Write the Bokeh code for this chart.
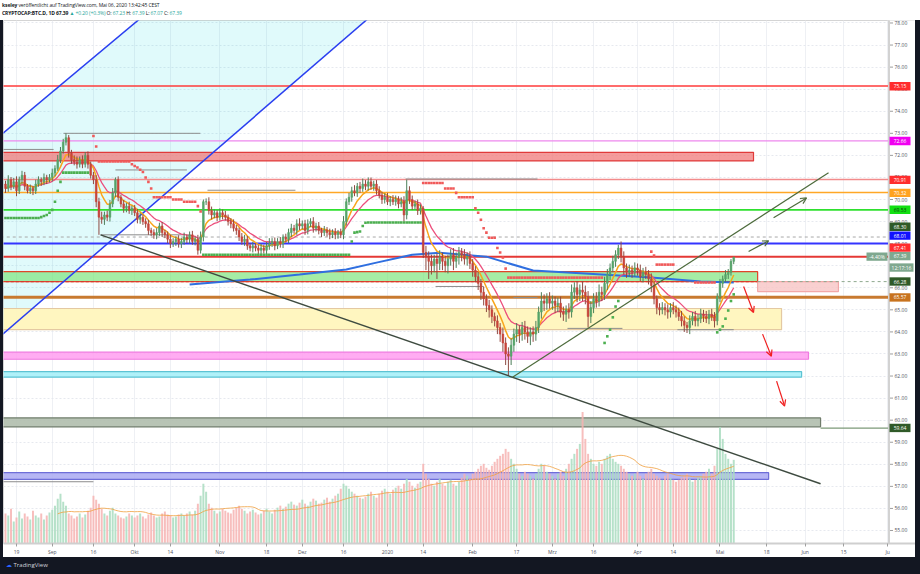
from bokeh.plotting import figure
from bokeh.models import (Range1d, FixedTicker, Arrow, OpenHead, ColumnDataSource, Div)
from bokeh.layouts import column, row
from bokeh.core.properties import value
from bokeh.embed import file_html
from bokeh.resources import INLINE

# ---------------- data (day index 0 = 19 Aug 2019, last = 6 May 2020) ----------------
first_open = 70.7
closes = (
    [70.5, 70.9, 70.6, 70.8, 70.4, 70.9, 71.1] +
    [70.6, 70.4, 70.5, 70.4, 70.7, 70.9, 70.8] +
    [71.0, 70.9, 71.0, 71.2, 71.4, 71.8, 72.2] +
    [72.6, 72.8, 72.1, 71.8, 71.7, 71.6, 71.8] +
    [71.6, 72.0, 71.6, 71.1, 70.9, 69.9, 69.2] +
    [69.1, 69.3, 69.2, 69.8, 70.3, 70.9, 70.1] +
    [69.8, 69.6, 69.7, 69.5, 69.6, 69.4, 69.1] +
    [69.2, 69.0, 68.9, 68.6, 68.5, 68.4, 68.5] +
    [68.8, 68.5, 68.4, 68.2, 68.0, 68.1, 68.2] +
    [68.0, 68.1, 68.3, 68.2, 68.4, 68.1, 68.2] +
    [67.7, 68.3, 69.9, 69.9, 69.5, 69.3, 69.4] +
    [69.2, 69.4, 69.3, 69.2, 69.0, 68.9, 68.7] +
    [68.6, 68.3, 68.1, 68.2, 67.9, 67.8, 67.9] +
    [67.8, 67.7, 67.8, 67.7, 67.9, 68.0, 68.1] +
    [67.9, 68.1, 68.0, 68.3, 68.2, 68.5, 68.7] +
    [68.6, 68.9, 68.8, 68.9, 68.6, 68.9, 69.0] +
    [68.7, 68.8, 68.6, 68.5, 68.6, 68.5, 68.4] +
    [68.5, 68.4, 68.5, 68.4, 69.0, 69.9, 70.1] +
    [70.4, 70.3, 70.6, 70.5, 70.7, 70.6, 70.8] +
    [70.6, 70.7, 70.4, 70.2, 70.0, 70.1, 69.9] +
    [70.0, 69.9, 70.0, 69.8, 69.9, 69.3, 70.4] +
    [70.0, 69.7, 69.8, 69.5, 69.6, 67.6, 67.4] +
    [67.2, 67.0, 67.3, 67.1, 67.4, 67.2, 67.0] +
    [67.3, 67.5, 67.2, 67.4, 67.6, 67.5, 67.3] +
    [67.4, 67.1, 66.8, 66.5, 66.2, 65.8, 65.5] +
    [65.2, 65.0, 64.7, 64.5, 64.2, 63.9, 63.5] +
    [63.0, 62.9, 63.4, 63.9, 64.1, 63.9, 64.2] +
    [64.0, 63.8, 64.0, 63.9, 64.2, 64.9, 65.4] +
    [65.3, 65.5, 65.3, 65.4, 65.2, 65.3, 64.9] +
    [64.8, 65.0, 64.9, 65.8, 66.0, 65.7, 65.9] +
    [65.8, 65.6, 64.7, 65.1, 65.5, 65.4, 65.8] +
    [65.7, 66.2, 66.6, 66.9, 67.2, 67.5, 67.8] +
    [67.4, 66.9, 66.7, 66.8, 66.7, 66.9, 66.8] +
    [66.5, 66.7, 66.6, 66.4, 66.1, 65.5, 65.1] +
    [65.0, 65.1, 65.0, 64.9, 65.1, 65.0, 64.9] +
    [64.7, 64.5, 64.3, 64.2, 64.5, 64.7, 64.5] +
    [64.6, 64.8, 64.7, 64.6, 64.8, 64.7, 64.5] +
    [65.6, 66.2, 66.4, 66.6, 66.7, 67.2, 67.39]
)
# upper / lower wick lengths in hundredths of a point
wick_up = (
    [15, 20, 12, 18, 25, 14, 20] + [15, 10, 18, 12, 20, 15, 10] + [18, 12, 15, 20, 15, 22, 18] +
    [15, 20, 12, 15, 20, 25, 15] + [20, 15, 18, 12, 15, 20, 18] + [25, 15, 20, 18, 22, 10, 15] +
    [12, 18, 15, 20, 12, 15, 18] + [20, 12, 15, 18, 12, 15, 20] + [15, 18, 12, 15, 20, 15, 12] +
    [18, 15, 20, 12, 15, 18, 12] + [20, 25, 10, 15, 20, 18, 15] + [12, 20, 15, 18, 12, 15, 20] +
    [15, 12, 18, 20, 15, 12, 18] + [12, 15, 20, 15, 18, 25, 15] + [18, 15, 20, 12, 15, 18, 20] +
    [15, 20, 25, 15, 18, 20, 15] + [20, 15, 18, 12, 20, 15, 18] + [15, 20, 12, 18, 25, 15, 20] +
    [18, 25, 15, 20, 25, 18, 20] + [20, 15, 18, 20, 15, 18, 20] + [15, 20, 18, 15, 20, 25, 50] +
    [20, 18, 15, 20, 18, 10, 30] + [25, 30, 20, 25, 30, 20, 25] + [20, 25, 30, 20, 25, 20, 25] +
    [20, 25, 20, 18, 22, 20, 25] + [20, 25, 20, 18, 25, 20, 30] + [25, 30, 30, 25, 30, 20, 25] +
    [30, 25, 20, 25, 30, 25, 40] + [30, 25, 30, 25, 20, 25, 30] + [25, 20, 30, 35, 25, 30, 25] +
    [40, 30, 25, 30, 25, 30, 35] + [25, 30, 25, 20, 25, 20, 15] + [30, 25, 20, 25, 20, 25, 20] +
    [25, 20, 25, 20, 25, 20, 15] + [20, 25, 20, 25, 20, 25, 20] + [20, 25, 20, 15, 25, 20, 25] +
    [20, 25, 20, 25, 20, 25, 20] + [15, 20, 15, 20, 15, 10, 0]
)
wick_dn = (
    [20, 15, 18, 12, 25, 15, 20] + [18, 12, 15, 20, 15, 12, 18] + [15, 20, 12, 18, 15, 10, 15] +
    [12, 15, 20, 18, 15, 20, 15] + [18, 15, 20, 15, 20, 25, 80] + [20, 25, 18, 20, 15, 20, 18] +
    [15, 20, 18, 15, 20, 15, 18] + [20, 15, 18, 20, 15, 18, 20] + [15, 20, 15, 18, 20, 15, 20] +
    [18, 20, 15, 18, 20, 15, 18] + [20, 15, 20, 15, 18, 20, 15] + [18, 15, 20, 15, 18, 20, 15] +
    [20, 18, 15, 20, 18, 15, 20] + [15, 20, 18, 15, 20, 18, 15] + [20, 15, 18, 20, 15, 18, 20] +
    [15, 20, 18, 15, 20, 18, 15] + [20, 15, 18, 20, 15, 18, 20] + [15, 20, 18, 15, 20, 18, 15] +
    [20, 15, 18, 20, 15, 18, 20] + [15, 20, 18, 15, 20, 18, 15] + [20, 15, 18, 20, 15, 30, 20] +
    [20, 18, 15, 20, 18, 25, 60] + [80, 40, 30, 70, 30, 40, 30] + [35, 30, 40, 30, 35, 30, 25] +
    [30, 25, 30, 25, 30, 35, 30] + [30, 35, 30, 25, 30, 35, 40] + [50, 90, 40, 30, 35, 40, 30] +
    [35, 30, 40, 35, 30, 25, 30] + [35, 30, 25, 30, 35, 30, 25] + [30, 35, 30, 25, 30, 35, 30] +
    [40, 35, 50, 30, 25, 30, 25] + [30, 25, 30, 25, 20, 25, 20] + [25, 30, 25, 20, 25, 20, 25] +
    [20, 25, 20, 25, 30, 25, 30] + [25, 20, 25, 30, 25, 20, 25] + [20, 25, 30, 25, 30, 20, 25] +
    [25, 20, 25, 20, 25, 20, 30] + [20, 25, 20, 15, 20, 15, 13]
)
volume = (
    [30, 28, 35, 22, 26, 32, 25, 30, 27, 24, 33, 28, 26, 30, 24, 28, 31] +
    [34, 38, 45, 50, 42, 38, 30, 28, 25, 27, 30, 26, 29, 33, 36] +
    [48, 44, 40, 35, 30, 28, 33, 36, 30, 28, 26, 25, 27, 30, 28, 26] +
    [28, 30, 27, 25, 29, 31, 28, 26, 27, 30, 32, 29, 28, 26, 27, 29, 30] +
    [28, 30, 32, 29, 33, 40, 48, 60, 52, 40, 36, 33, 30, 32, 35] +
    [33, 31, 30, 34, 36, 38, 35, 33, 30, 32, 34, 31, 29, 30, 33, 35, 32, 30, 34, 36] +
    [38, 35, 37, 40, 42, 39, 38, 41, 44, 40, 38, 42, 45, 43, 40, 41, 44, 46, 42, 45, 48, 50, 55, 60, 58] +
    [55, 52, 50, 48, 46, 45, 47, 50, 52, 48, 46, 50, 53, 55, 52, 50, 54, 56, 58, 55, 60, 65, 62, 58, 56, 60, 62] +
    [80, 70, 65, 60, 58, 62, 65, 60, 58, 62, 64, 60, 58, 62, 66, 70, 68, 65, 70, 72, 75, 78, 80, 76, 74, 78, 82, 85, 88, 90, 95] +
    [92, 85, 80, 75, 70, 68, 72, 70, 68, 65, 70, 75, 80, 78, 72, 70, 68, 65, 70, 72, 68, 75, 80, 85, 90, 95, 100, 132, 105, 90, 85, 80, 78, 82] +
    [80, 85, 88, 90, 85, 82, 80, 78, 75, 72, 70, 68, 70, 72, 68, 65, 70, 72, 75, 70, 68, 66, 64, 68, 70, 66, 64, 62] +
    [64, 66, 68, 70, 65, 62, 64, 66, 68, 70, 72, 75, 70, 78, 95, 117, 105, 90, 85, 80, 84]
)
stop_dots = (
    [69.16] * 13 + [69.2, 69.25, 69.3, 69.4] + [69.53, 69.9, 70.4, 70.8] + [71.22] * 10 + [None] +
    [72.88, 72.4] + [71.72] * 12 + [71.6, 71.52, 71.45, 71.35, 71.25, 71.0, 70.8, 70.5] +
    [70.1] * 7 + [70.0] * 4 + [69.9] * 5 + [69.7, 69.46] + [67.5] * 54 +
    [68.1, 68.5, 68.52, 68.55, 68.8, 68.95] + [68.96] * 20 + [70.75] * 8 + [70.5] * 4 + [70.3] +
    [70.1] * 6 + [69.6, 69.4, 69.08, 68.7, 68.5, 68.27, 68.27, 68.27, 67.8, 67.6, 67.37, 66.87] +
    [66.46] * 35 + [63.5, 63.8, 64.1, 64.66, 65.15, 65.4] + [None] * 11 + [67.64, 67.46] +
    [67.05] * 7 + [None] * 7 + [66.24] * 8 + [63.98, 64.1, 64.25, 64.6, 64.97, 65.4, 65.7]
)
ma200_days = [63, 85, 103, 120, 131, 144, 154, 171, 188, 213, 231, 249, 261]
ma200_vals = [66.15, 66.37, 66.6, 66.83, 67.14, 67.5, 67.59, 67.41, 66.78, 66.6, 66.47, 66.28, 66.24]

tick_days = [0, 13, 28, 43, 56, 74, 91, 104, 119, 135, 148, 166, 182, 195, 210, 226, 239, 256, 273, 287, 301, 317]
tick_labels = ["19", "Sep", "16", "Okt", "14", "Nov", "18", "Dez", "16", "2020", "14", "Feb",
               "17", "Mrz", "16", "Apr", "14", "Mai", "18", "Jun", "15", "Ju"]
price_ticks = list(range(55, 79))

level_prices = [75.15, 72.66, 70.91, 70.32, 69.53, 68.01, 67.41, 65.57]
zone_top = [72.14, 66.73, 66.28, 65.06, 63.08, 62.20, 60.10, 57.62]
zone_bot = [71.75, 66.28, 65.83, 64.10, 62.76, 61.95, 59.70, 57.32]
zone_start = [-6, -6, 269.7, -6, -6, -6, -6, -6]
zone_end = [268.2, 269.7, 299.1, 278.4, 288.2, 285.7, 292.6, 273.7]

piv_d0 = [17.1, -6, 30.6, 36.0, 69.5, 85.0, 141.6, 152.5, 180.8, 200.5, 240.5, -6]
piv_d1 = [66.9, 13.5, 60.8, 62.0, 101.5, 119.0, 189.6, 170.0, 189.6, 220.5, 261.0, 28.0]
piv_p = [73.0, 72.27, 68.40, 71.34, 70.42, 67.37, 70.93, 66.06, 65.56, 64.16, 64.10, 57.21]

chan_up = [(-5, 73.0), (47, 78.41)]
chan_lo = [(-5, 63.9), (129.8, 78.4)]
trend_dn = [(30.6, 68.4), (292.6, 57.12)]
trend_up = [(180.5, 61.95), (295.5, 71.21)]
arrows_up = [((266.4, 67.64), (273.7, 68.13)), ((275.5, 69.17), (287.5, 70.07))]
arrows_dn = [((264.6, 66.06), (268.2, 64.88)), ((271.5, 63.9), (274.7, 62.9)), ((276.6, 61.77), (279.5, 60.64))]

# price tags on the scale: text, background, text colour
tag_text = ["75.15", "72.66", "70.91", "70.32", "69.53", "68.30", "68.01", "67.41", "67.39",
            "12:17:16", "66.28", "65.57", "59.64", "-4.40%"]
tag_bg = ["#ff2d2d", "#f000f0", "#ff2d2d", "#ffa21f", "#12e012", "#2f5a28", "#1212ff", "#ff2d2d",
          "#7fa88f", "#7fa88f", "#2f5a28", "#c8731e", "#2f5a28", "#7fa88f"]
tag_fg = ["white"] * 4 + ["#0d3a0d"] + ["white"] * 9

# ---------------- helpers (screen pixel -> data) ----------------
def dx(px):
    return (px - 16.0) / 2.748


def py(pv):
    return 78.0 - (pv - 22.5) / 22.15


def ema(vals, n):
    a = 2.0 / (n + 1)
    out = [vals[0]]
    for v in vals[1:]:
        out.append(out[-1] + a * (v - out[-1]))
    return out


n = len(closes)
days = list(range(-4, -4 + n))
opens = [first_open] + closes[:-1]
highs = [max(o, c) + u / 100.0 for o, c, u in zip(opens, closes, wick_up)]
lows = [min(o, c) - d / 100.0 for o, c, d in zip(opens, closes, wick_dn)]
is_up = [c >= o for o, c in zip(opens, closes)]

UP, DN = "#56a46a", "#c8443a"
src = ColumnDataSource(dict(
    d=days, h=highs, l=lows,
    top=[max(o, c) for o, c in zip(opens, closes)],
    bot=[min(o, c) for o, c in zip(opens, closes)],
    col=[UP if u else DN for u in is_up],
    wick=["#4d7f5a" if u else "#8e4a42" for u in is_up],
    vol=volume,
    vcol=["#a9dcc0" if u else "#f6b3b1" for u in is_up],
))

FONT = value("Open Sans")
p = figure(width=912, height=537,
           x_range=Range1d(dx(3), dx(915)), y_range=Range1d(py(545), py(20)),
           y_axis_location=None, output_backend="svg", toolbar_location=None,
           min_border_left=0, min_border_right=0, min_border_top=0, min_border_bottom=12,
           background_fill_color="white", border_fill_color="white",
           outline_line_color="#d4d4d4", margin=0)
p.extra_y_ranges = {"vol": Range1d(0, 525)}

# grid
p.xgrid.ticker = FixedTicker(ticks=tick_days)
p.ygrid.ticker = FixedTicker(ticks=price_ticks)
p.xgrid.grid_line_color = "#eef0f4"
p.ygrid.grid_line_color = "#e6e9ef"
p.ygrid.grid_line_dash = "2 2"

# time axis
ax = p.xaxis[0]
ax.ticker = FixedTicker(ticks=tick_days)
ax.major_label_overrides = {d: t for d, t in zip(tick_days, tick_labels)}
ax.major_label_text_font_size = "5px"
ax.major_label_text_color = "#50535e"
ax.major_label_text_font = "Open Sans"
ax.axis_line_color = "#cfcfcf"
ax.axis_line_width = 2
ax.major_tick_line_color = "#9e9e9e"
ax.major_tick_out = 3
ax.major_tick_in = 0
ax.minor_tick_line_color = None
ax.major_label_standoff = 2

# channel fill
cx = [chan_up[0][0], chan_up[1][0], chan_lo[1][0], chan_lo[0][0]]
cy = [chan_up[0][1], chan_up[1][1], chan_lo[1][1], chan_lo[0][1]]
p.patch(cx, cy, fill_color="#00d8e0", fill_alpha=0.12, line_color=None)

# zones
zone_fill = ["#f07a7a", "#74e474", "#f8c4c4", "#fff5bd", "#ff9ef0", "#a6eff8", "#b0bead", "#a9a9f2"]
zone_line = ["#e03a3a", "#e0452a", "#f2a8a8", "#e4c9a2", "#f07ae0", "#5cc3d3", "#6f7c6b", "#6e6ed8"]
zone_alpha = [0.75, 0.65, 0.8, 0.95, 0.85, 0.9, 0.9, 0.85]
p.quad(left=zone_start, right=zone_end, top=zone_top, bottom=zone_bot,
       fill_color=zone_fill, fill_alpha=zone_alpha, line_color=zone_line, line_width=1.2)
XL, XR = dx(3) - 1, dx(888)
p.segment(x0=[XL], x1=[zone_end[1]], y0=[66.28], y1=[66.28],
          line_color="#d63a2a", line_width=1.2, line_dash="3 2")
p.segment(x0=[zone_end[1]], x1=[XR], y0=[66.28], y1=[66.28],
          line_color="#8fa88f", line_width=1, line_dash="3 3")
p.segment(x0=[zone_end[6]], x1=[XR], y0=[59.64], y1=[59.64],
          line_color="#7d9a78", line_width=1.2)

# horizontal levels
lvl_col = ["#ff3b3b", "#ee88ee", "#f28b8b", "#ffa726", "#2ee02e", "#3434ff", "#e53935", "#c87a30"]
lvl_w = [1.5, 1.2, 1.5, 1.6, 1.6, 2, 2, 3]
p.segment(x0=[XL] * len(level_prices), x1=[XR] * len(level_prices), y0=level_prices, y1=level_prices,
          line_color=lvl_col, line_width=lvl_w)
p.segment(x0=[XL], x1=[XR], y0=[68.30], y1=[68.30],
          line_color="#a8a8a8", line_width=1, line_dash="3 3")

# pivot lines
p.segment(x0=piv_d0, x1=piv_d1, y0=piv_p, y1=piv_p, line_color="#8c8c8c", line_width=1)

# channel lines
for ln in (chan_up, chan_lo):
    p.line([ln[0][0], ln[1][0]], [ln[0][1], ln[1][1]], line_color="#2a3ff0", line_width=1.5)

# volume
p.vbar(x="d", width=0.72, top="vol", bottom=0, y_range_name="vol", source=src,
       fill_color="vcol", line_color=None, fill_alpha=0.85)
vma = [None if i < 19 else sum(volume[i - 19:i + 1]) / 20.0 for i in range(n)]
p.line([d for d, v in zip(days, vma) if v is not None], [v for v in vma if v is not None],
       y_range_name="vol", line_color="#f0a040", line_width=1, line_alpha=0.8)

# moving averages
p.line(ma200_days, ma200_vals, line_color="#2f6fe0", line_width=2)
p.line(days, ema(closes, 14), line_color="#ec4f7c", line_width=1.3)
p.line(days, ema(closes, 7), line_color="#f8a51c", line_width=1.5)

# candles
p.segment(x0="d", x1="d", y0="h", y1="l", line_color="wick", line_width=1, source=src)
p.vbar(x="d", width=0.62, top="top", bottom="bot", fill_color="col", line_color="col",
       line_width=0.6, source=src)

# stop dots
gd, gv, rd, rv = [], [], [], []
for d, s, c in zip(days, stop_dots, closes):
    if s is None:
        continue
    if s > c:
        rd.append(d); rv.append(s)
    else:
        gd.append(d); gv.append(s)
p.scatter(gd, gv, marker="square", size=2.6, fill_color="#4caf50", line_color=None)
p.scatter(rd, rv, marker="square", size=2.6, fill_color="#f05a5a", line_color=None)

# trend lines and arrows
p.line([trend_dn[0][0], trend_dn[1][0]], [trend_dn[0][1], trend_dn[1][1]],
       line_color="#3e4b40", line_width=1.4)
p.line([trend_up[0][0], trend_up[1][0]], [trend_up[0][1], trend_up[1][1]],
       line_color="#4d6b3c", line_width=1.2)
for (a, b) in arrows_up:
    p.add_layout(Arrow(end=OpenHead(size=6, line_color="#4d6b3c", line_width=1.2),
                       x_start=a[0], y_start=a[1], x_end=b[0], y_end=b[1],
                       line_color="#4d6b3c", line_width=1.2))
for (a, b) in arrows_dn:
    p.add_layout(Arrow(end=OpenHead(size=6, line_color="#f02020", line_width=1.2),
                       x_start=a[0], y_start=a[1], x_end=b[0], y_end=b[1],
                       line_color="#f02020", line_width=1.2))

# ---------------- price scale (right side of the frame) ----------------
p.quad(left=[dx(888)], right=[dx(920)], top=[py(10)], bottom=[py(560)],
       fill_color="white", line_color=None)
p.segment(x0=[dx(888.5)], x1=[dx(888.5)], y0=[py(18)], y1=[py(548)],
          line_color="#d2d2d2", line_width=2)
p.segment(x0=[dx(889.5)] * len(price_ticks), x1=[dx(892.5)] * len(price_ticks),
          y0=price_ticks, y1=price_ticks, line_color="#9e9e9e", line_width=1)
p.text(x=[dx(894)] * len(price_ticks), y=price_ticks, text=["%.2f" % t for t in price_ticks],
       text_font=FONT, text_font_size="5px", text_color="#50535e",
       text_align="left", text_baseline="middle")

tag_row = [86, 141, 180, 193, 210, 227, 236, 248, 256.5, 268, 282, 298, 429, 257]
tag_x0 = [889] * 9 + [889, 889, 889, 889, 866]
tag_x1 = [910] * 9 + [913, 910, 910, 910, 887]
p.quad(left=[dx(a) for a in tag_x0], right=[dx(b) for b in tag_x1],
       top=[py(r - 4.2) for r in tag_row], bottom=[py(r + 4.2) for r in tag_row],
       fill_color=tag_bg, line_color=None)
p.text(x=[dx((a + b) / 2.0) for a, b in zip(tag_x0, tag_x1)], y=[py(r) for r in tag_row],
       text=tag_text, text_color=tag_fg, text_font=FONT, text_font_size="5px",
       text_align="center", text_baseline="middle")

# ---------------- header / footer ----------------
G = '<span style="color:#26a69a">%s</span>'
header_html = (
    '<div style="font-family:\'Open Sans\';font-size:5px;line-height:8px;color:#131722;'
    'letter-spacing:-0.1px;padding:1px 0 0 2px;white-space:nowrap">'
    '<b>kseley</b> veröffentlicht auf TradingView.com, Mai 06, 2020 13:42:45 CEST<br>'
    '<b>CRYPTOCAP:BTC.D, 1D</b> <b>67.39</b> ' + G % '&#9650; +0.20 (+0.3%)' +
    ' O: ' + G % '67.23' + ' H: ' + G % '67.39' + ' L: ' + G % '67.07' + ' C: ' + G % '67.39' +
    '</div>'
)
header = Div(text=header_html, width=920, height=20, margin=0,
             styles={"background-color": "white", "overflow": "hidden"})
footer = Div(text='<span style="color:#2962ff">&#9729;</span> TradingView', width=920, height=17,
             margin=0,
             styles={"background-color": "#131722", "color": "#d1d4dc", "font-size": "6px",
                     "font-family": "Open Sans", "line-height": "16px", "padding-left": "6px",
                     "box-sizing": "border-box", "overflow": "hidden"})
left_strip = Div(text="", width=3, height=537, margin=0, styles={"background-color": "#131722"})
right_strip = Div(text="", width=5, height=537, margin=0, styles={"background-color": "#131722"})

layout = column(header, row(left_strip, p, right_strip, spacing=0, margin=0), footer,
                spacing=0, margin=0)
open("out.html", "w").write(file_html(layout, INLINE))
